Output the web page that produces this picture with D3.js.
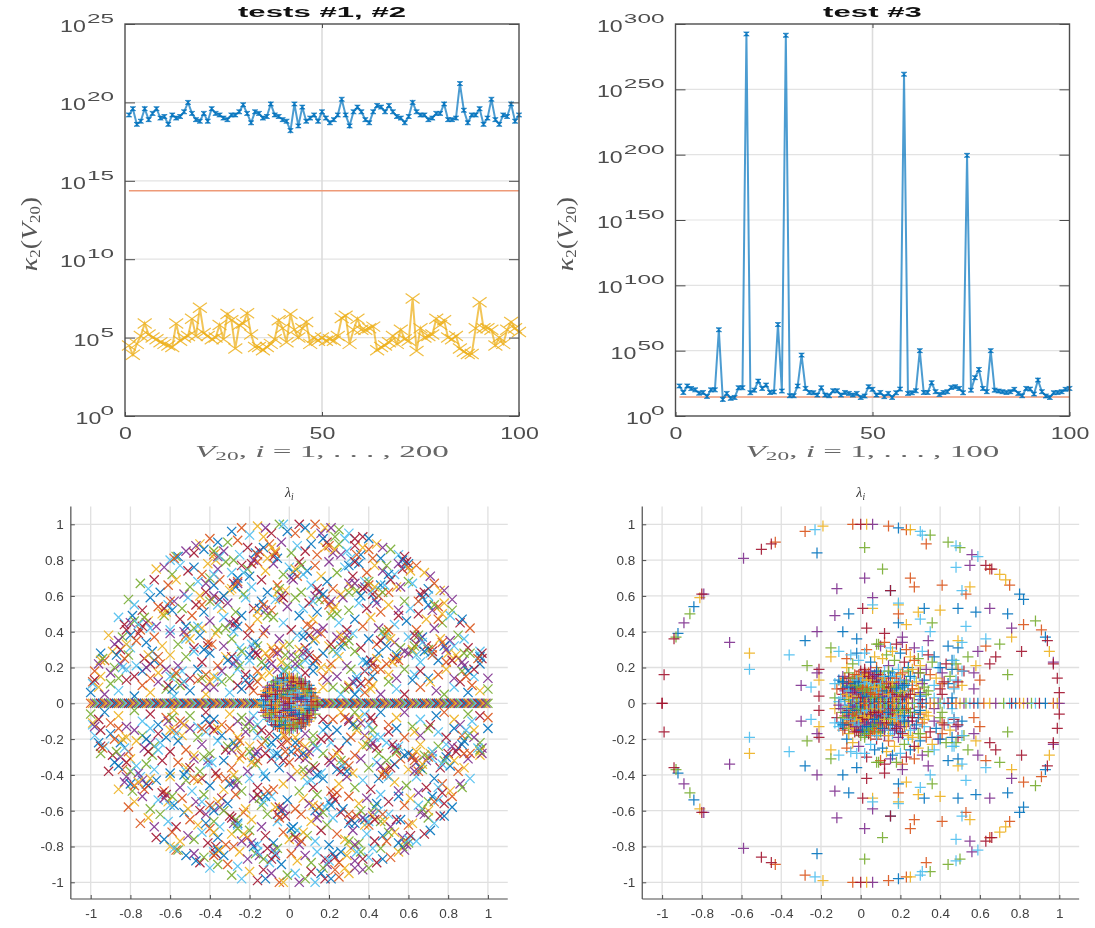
<!DOCTYPE html>
<html>
<head>
<meta charset="utf-8">
<script src="https://cdn.jsdelivr.net/npm/d3@7"></script>
<style>
body { margin: 0; background: #fff; }
svg { display: block; filter: blur(0.35px); }
</style>
</head>
<body>
<div id="chart"></div>
<script>
// top panels: exponents of kappa_2(V_20), i = 1..100
var blueOneExp = [19.2,19.6,18.6,18.8,19.6,18.9,19.3,19.6,19.0,19.1,18.6,19.2,19.0,19.1,19.4,20.0,19.3,18.9,18.8,19.3,18.8,19.6,19.3,19.2,19.0,18.9,19.2,19.2,19.4,19.85,19.3,18.7,19.4,19.3,19.0,19.1,19.9,19.2,19.1,18.9,18.8,18.2,19.9,18.5,19.7,18.8,19.0,19.2,18.8,19.4,19.0,18.7,18.9,19.2,20.2,19.2,18.5,19.4,19.7,19.4,18.9,18.7,19.4,19.8,19.7,19.4,19.8,19.4,19.1,19.0,18.7,19.1,20.0,19.4,19.2,19.2,18.9,19.0,19.3,19.3,19.9,18.9,18.9,19.0,21.2,19.5,18.7,19.2,19.2,19.6,18.6,19.0,20.2,18.9,18.6,19.2,19.1,19.9,18.8,19.2];
var yellowOneExp = [4.5,3.9,4.6,5.1,5.9,5.2,5.0,4.9,4.7,4.6,4.5,4.4,5.9,4.8,5.0,5.1,6.2,5.1,6.9,5.3,5.1,4.9,5.0,5.8,4.9,6.5,6.1,4.3,5.8,5.9,6.55,5.2,4.4,4.4,4.2,4.4,4.6,4.9,6.1,5.6,4.7,6.5,5.5,5.0,5.6,6.0,4.6,5.0,4.8,5.0,4.8,4.9,4.8,5.1,6.25,6.4,4.6,5.5,6.2,5.5,5.5,5.6,5.7,4.2,4.4,4.5,4.7,5.1,4.6,5.5,4.9,4.8,7.5,4.15,5.6,5.0,5.1,5.2,6.2,5.8,6.1,5.0,4.9,5.1,4.3,4.1,3.95,3.95,5.6,7.25,5.6,5.6,5.5,4.5,5.0,4.6,5.5,6.0,5.6,5.35];
var redOneExp = 14.37;
var blueTwoExp = [23,18,23,21,20,17.5,18,15,20,20,66,12.7,17.3,13.5,14.2,21.6,21.6,292.4,17.8,19.8,26.7,21.1,23.7,18,18.4,70,19.1,291.4,15.5,15.5,22.9,46.6,21.1,18,17.8,16,21.6,16,15.5,19.3,19.3,16,18,17.3,16,17.3,14.2,15.3,22.4,20.4,16,18,14.8,17.3,14.2,17.8,20.6,261.6,17.3,17.8,19.3,50,18,18,25.4,18.6,16.5,18,18.6,21.9,22.4,21.1,17.8,199.5,19.8,29.3,35.6,21.1,18.6,50,19.8,19.1,18.6,18,18.6,20.4,17.3,15.5,21.1,20.6,16.8,27.5,18.6,15.3,14.2,17.8,18,18.6,20.4,21.1];
var redTwoExp = 14.5;
var testIndex = d3.range(1, 101);
var xTicksTop = [0, 50, 100];
var yExpOne = [0, 5, 10, 15, 20, 25];
var yExpTwo = [0, 50, 100, 150, 200, 250, 300];

// bottom panels: eigenvalues in hundredths, flat re,im lists, upper half plane
var timesUpper = [-29,96,-24,98,-16,99,-12,98,-5,100,-3,100,5,100,8,98,13,100,18,98,21,98,25,97,30,95,37,93,40,92,-40,92,-45,89,-47,88,-31,90,-20,94,-9,95,-1,96,3,95,11,94,16,95,23,93,28,92,33,92,-36,90,-26,91,-13,93,
-52,85,-57,82,-60,80,-48,84,-43,86,-38,83,-37,80,-33,85,-28,80,-25,83,-21,87,-17,84,-10,89,-7,85,-4,90,1,84,4,88,8,85,11,89,14,83,18,87,22,84,25,89,29,85,33,88,36,83,40,86,44,89,47,87,51,86,55,83,58,82,46,81,42,81,
-67,75,-63,76,-59,72,-55,77,-51,74,-48,76,-44,72,-41,78,-36,75,-32,79,-29,73,-24,77,-20,71,-16,79,-12,74,-8,78,-3,72,0,76,5,79,9,74,13,77,16,71,20,79,24,73,28,76,32,71,35,78,39,73,43,77,47,74,49,77,53,72,57,75,60,78,64,77,68,73,71,71,
-75,67,-71,64,-68,69,-65,62,-61,66,-57,69,-53,61,-50,65,-46,68,-42,62,-38,66,-35,69,-30,63,-26,67,-23,61,-19,65,-14,69,-11,62,-6,66,-2,63,2,69,6,62,11,66,15,62,19,68,22,64,26,61,30,67,34,63,38,68,42,61,46,66,50,62,54,65,56,65,60,68,62,67,66,61,70,64,73,67,76,63,78,63,
-81,58,-78,55,-74,52,-70,59,-66,54,-62,51,-58,57,-54,53,-51,59,-47,55,-43,51,-39,58,-34,53,-31,56,-27,51,-22,59,-18,53,-14,57,-9,52,-5,58,-1,54,3,59,7,53,10,56,14,51,18,58,23,54,27,59,30,52,35,56,39,53,43,58,46,51,50,55,55,52,58,57,61,53,65,50,70,55,75,54,78,56,82,58,82,52,
-86,48,-83,44,-79,49,-75,41,-71,46,-67,43,-63,49,-60,41,-55,47,-52,43,-49,49,-44,42,-40,46,-36,41,-33,48,-28,44,-24,49,-20,42,-16,47,-12,41,-8,48,-3,45,1,41,5,49,9,44,12,47,17,42,21,49,25,45,29,41,33,47,37,43,41,48,45,42,49,40,53,44,55,49,59,46,64,41,69,47,73,42,77,45,81,49,86,45,87,47,91,42,
-91,38,-88,33,-84,37,-80,31,-76,39,-72,34,-68,37,-64,32,-60,39,-56,33,-52,36,-48,31,-45,38,-41,34,-37,39,-33,32,-29,36,-25,31,-21,38,-17,34,-13,39,-9,31,-5,36,0,33,4,38,8,31,12,35,16,39,20,32,24,37,28,33,32,39,36,31,40,36,44,33,48,38,53,34,56,31,60,37,64,33,67,37,72,31,76,36,81,35,85,38,88,36,90,31,
-95,28,-93,24,-89,29,-85,22,-81,27,-77,21,-73,25,-69,29,-65,22,-60,27,-56,21,-52,26,-48,29,-44,23,-40,28,-36,21,-32,26,-28,22,-24,29,-20,24,-16,27,-12,21,-8,29,-4,23,1,27,5,22,9,29,13,24,17,28,21,22,25,26,29,21,33,29,37,24,41,24,45,28,49,22,54,26,58,29,62,29,66,23,72,29,75,24,79,23,84,27,88,21,91,28,96,29,97,25,96,22,
-98,18,-95,15,-90,17,-86,14,-82,19,-78,15,-74,18,-70,14,-66,17,-62,19,-58,15,-54,18,-50,14,-46,19,-42,16,-38,15,-34,18,-30,14,-26,19,-22,16,-18,14,-16,18,-10,17,-6,19,-2,18,3,19,8,17,12,18,17,15,20,19,24,15,31,19,34,15,38,18,42,15,46,19,50,16,54,14,58,19,63,16,66,18,70,14,75,16,79,19,83,14,87,18,93,15,93,19,
-100,6,-99,12,-96,9,-93,5,-90,11,-86,7,-82,13,-78,4,-74,10,-70,6,-66,12,-62,8,-58,4,-54,11,-50,7,-46,13,-42,5,-38,9,-34,12,-30,6,-26,10,-22,13,-18,7,17,9,19,13,22,9,26,5,30,9,34,13,38,6,42,10,46,5,50,12,54,8,58,5,62,13,66,9,71,12,74,7,78,5,83,9,86,12,90,6,92,10,96,7,100,14,100,8];
var timesClumps = [96,27,97,28,96,26,95,25,-95,24,-96,22,-94,25,-99,11,-98,13,-56,82,-58,81,-37,84,-36,82,-38,85,-35,82,-28,67,-27,65,-26,68,-29,64,-27,24,-25,21,-26,25,-29,26,-31,24,-52,38,-50,36,-53,40,-48,42,-46,43,-41,32,-43,30,-39,33,
-6,62,-4,60,-5,64,-7,58,-3,59,-15,53,-13,55,-16,51,-12,52,-11,49,-61,55,-63,53,-59,52,-60,57,-64,50,-72,45,-73,48,-70,42,-74,43,2,73,4,71,3,75,1,70,6,77,7,72,-8,82,-6,81,-7,84,-9,87,
13,60,15,58,12,57,14,64,17,61,20,55,22,52,21,57,24,50,31,81,33,79,30,77,34,83,37,87,38,65,40,68,42,63,37,64,36,60,40,66,31,65,33,67,30,62,58,77,59,79,57,80,60,76,61,74,55,78,
70,30,71,28,69,32,68,29,72,27,62,30,60,28,63,32,64,27,53,25,54,27,55,24,52,23,66,36,65,38,67,34,63,38,78,32,77,34,80,28,79,30,47,40,48,37,46,35,49,32,50,41,51,36,
-18,30,-16,32,-19,33,-17,28,-20,27,-5,30,-3,32,-6,28,-2,27,8,40,10,38,7,37,11,43,13,36,14,40,22,30,24,28,21,33,26,32,27,35,26,38,29,38,30,35,40,20,42,22,39,23,43,19,44,25,
-38,60,-40,57,-36,55,-35,58,-33,60,-44,55,-45,60,-42,67,-40,70,-38,72,-70,22,-68,24,-66,26,-71,27,-72,20,-55,10,-53,12,-85,30,-87,27,-83,25,-82,33,-86,35,-88,20,-84,20,
-15,85,-13,87,-16,83,-11,81,-18,80,-21,75,-23,73,-19,78,-26,70,45,60,43,65,44,56,47,62,48,66,51,69,50,72,75,47,77,50,72,52,73,55,70,60,68,62,67,59,65,57,85,25,87,23,88,28,83,32,82,24,90,18,89,15,
30,10,32,12,28,8,35,8,36,11,33,5,40,12,41,8,-30,45,-32,42,-28,40,-27,46,-26,43,-10,25,-12,28,-9,22,-14,23,-60,15,-61,10,-59,8,-57,17,-40,12,-42,9,-44,14,-36,14,-20,10,-24,8,-16,12,-14,15,
-80,45,-78,46,-76,44,-82,41,-80,38,-77,35,5,30,7,28,4,26,8,24,10,27,12,22,14,25,16,20,3,22,-1,21,-3,18,19,90,17,92,20,88,23,86,26,83];
var timesCore = [-14,2,-13,5,-12,7,-11,9,-9,10,-8,12,-6,13,-4,14,-2,14,0,15,2,14,4,14,6,13,8,12,10,10,11,8,13,6,13,3,14,1,-12,2,-11,4,-10,6,-8,8,-7,10,-5,11,-3,12,-1,12,1,12,3,11,5,11,7,10,8,8,10,6,11,4,12,2,-10,1,-9,3,-8,5,-6,7,-4,8,-2,10,0,10,2,9,4,9,6,8,7,6,9,4,9,1,-7,2,-6,4,-4,5,-2,7,0,7,2,6,4,6,5,4,7,3,6,1,-5,1,-4,3,-2,4,0,4,2,3,3,2,-2,1,0,2,1,1,0,0,
-13,1,-12,4,-11,6,-10,8,-9,6,-8,10,-7,12,-5,13,-3,14,-1,13,1,14,3,13,5,12,7,11,9,9,10,8,11,6,12,4,13,2,-11,2,-9,1,-8,3,-7,5,-6,9,-5,7,-4,10,-3,7,-3,5,-2,12,-1,8,-1,5,-1,3,0,12,1,10,1,7,1,4,2,12,3,8,3,5,4,11,4,3,5,9,5,6,6,11,6,3,7,8,8,5,8,2,9,7,10,3,11,1,-6,1,-3,1];
var timesReal = [-100,-99,-98,-97,-96,-95,-94,-93,-92,-91,-90,-89,-88,-87,-86,-85,-84,-83,-82,-81,-80,-79,-78,-77,-76,-75,-74,-73,-72,-71,-70,-69,-68,-67,-66,-65,-64,-63,-62,-61,-60,-59,-58,-57,-56,-55,-54,-53,-52,-51,-50,-49,-48,-47,-46,-45,-44,-43,-42,-41,-40,-39,-38,-37,-36,-35,-34,-33,-32,-31,-30,-29,-28,-27,-26,-25,-24,-23,-22,-21,-20,-19,-18,-17,-16,-15,15,16,17,18,19,20,21,22,23,24,25,26,27,28,29,30,31,32,33,34,35,36,37,38,39,40,41,42,43,44,45,46,47,48,49,50,51,52,53,54,55,56,57,58,59,60,61,62,63,64,65,66,67,68,69,70,71,72,73,74,75,76,77,78,79,80,81,82,83,84,85,86,87,88,89,90,91,92,93,94,95,96,97,98,99,100];

var plusBlue = [19,98,15,63,32,53,49,53,58,51,74,50,19,45,44,32,49,31,80,61,82,58,93,37,40,20,46,19,-92,39,-84,54,-22,84,-28,35,-9,40,-6,50,-2,36,-9,12,22,10,30,4];
var plusOrange = [14,99,23,97,33,89,25,70,27,65,41,66,53,61,19,50,82,44,91,41,63,32,60,13,75,66,65,75,-43,90,-28,96,-4,100,-7,25,41,11];
var plusYellow = [3,100,25,97,55,65,6,53,29,51,40,52,23,44,76,37,95,29,70,72,73,69,58,21,19,55,49,35,-81,59,-19,99,-56,28,-15,26,-21,13,26,19];
var plusPurple = [6,100,56,83,55,77,2,70,6,59,65,53,76,42,97,23,34,35,21,37,59,29,57,17,-79,61,-89,45,-59,81,-66,34,-12,64,-13,49,-22,40,-30,10,-22,17];
var plusGreen = [2,87,11,75,35,94,44,90,50,87,88,46,36,45,70,33,54,26,74,16,9,33,48,22,-86,50,-93,37,-15,31,-27,21,8,33,30,17];
var plusCyan = [30,96,31,94,48,88,48,76,51,63,6,55,19,56,30,47,35,40,53,43,63,36,51,34,59,82,47,24,51,18,47,8,-23,97,-36,27,-56,19,-25,9,-11,29,-5,27,-13,11,2,28];
var plusRed = [0,100,63,77,66,75,15,63,1,53,3,42,12,39,94,35,81,29,68,26,65,22,97,22,99,14,100,6,42,12,49,12,-99,16,-100,0,-94,36,-80,61,-50,86,-45,89,-21,4,-21,19];
var plusCluster = [-2,28,3,30,7,26,10,32,13,27,15,31,18,33,20,28,23,30,25,26,27,31,29,25,31,29,34,27,37,26,12,34,16,29,21,34,
-4,22,-1,24,2,19,5,23,8,20,11,25,14,21,17,24,19,19,22,23,24,20,27,24,30,21,33,19,36,23,39,20,43,22,46,24,49,19,-7,20,
-9,15,-6,17,-3,13,0,18,2,14,4,17,6,12,8,16,10,13,12,18,14,14,16,17,18,12,20,16,22,13,24,18,27,14,29,17,32,13,35,16,38,14,41,17,45,15,48,13,52,18,-11,13,
-12,8,-10,11,-8,7,-6,10,-4,8,-2,12,0,7,1,10,3,8,5,11,6,7,8,10,9,7,11,11,13,8,15,11,16,7,18,10,20,8,22,11,24,7,26,10,29,8,31,11,34,7,37,10,40,8,44,11,47,9,51,10,57,8,
-13,3,-11,1,-9,5,-8,2,-6,4,-5,1,-3,5,-2,2,0,4,1,1,2,5,4,2,5,4,6,1,8,5,9,2,10,4,12,1,13,5,14,2,16,4,17,1,19,5,20,2,22,4,24,3,27,5,30,2,33,5,37,3,41,5,46,3,
-4,11,-1,9,1,13,3,11,4,6,6,9,7,13,9,12,10,8,11,5,12,11,13,3,14,9,15,6,-3,9,-1,6,0,12,2,9,2,3,3,6,5,8,6,5,7,3,8,8,9,10,10,6,-5,6,-7,9,-2,15,3,16,6,15,9,17,
-10,3,-9,8,-9,12,-8,14,-7,5,-7,11,-6,2,-6,7,-6,14,-5,9,-5,12,-4,3,-4,6,-4,14,-3,2,-3,8,-3,11,-3,16,-2,4,-2,7,-2,10,-2,13,-1,3,-1,12,-1,16,0,2,0,6,0,9,0,15,1,3,1,6,1,8,1,15,2,1,2,7,2,11,2,17,3,4,3,9,3,13,4,1,4,8,4,12,4,15,5,2,5,6,5,13,5,18,6,3,6,11,6,14,7,1,7,5,7,9,7,16,8,3,8,7,8,12,8,18,9,5,9,9,9,14,10,2,10,11,10,16,11,3,11,7,11,14,12,5,12,9,12,15,13,1,13,7,13,11,14,5,14,12,14,18,15,3,15,9,15,15,16,6,16,12,17,3,17,9,17,15,18,5,18,8,18,14,19,3,19,11,20,6,20,13,21,4,21,9,21,17,22,7,23,3,23,12,24,10,25,5,25,15,26,8,28,12,30,6,32,9];
var plusReal = [-4,-2,-1,0,1,2,3,4,5,6,7,8,9,10,11,12,13,14,15,16,17,18,19,20,21,22,23,24,26,27,29,31,33,35,37,39,40,42,44,46,48,50,52,53,55,57,59,62,65,68,72,75,76,78,80,82,84,86,88,90,93,97,99,100];

var eigenTicks = [-1, -0.8, -0.6, -0.4, -0.2, 0, 0.2, 0.4, 0.6, 0.8, 1];
var lineColors = ['#0072BD', '#D95319', '#EDB120', '#7E2F8E', '#77AC30', '#4DBEEE', '#A2142F'];

const svg = d3.select('#chart').append('svg').attr('width', 1095).attr('height', 928);
const axisGrey = '#4d4d4d';
const wide = 1.45;   // the upper panels are stretched sideways in the original
const cycle = d3.scaleOrdinal().domain(d3.range(7)).range(lineColors);
const timesGlyph = 'M-4.6,-4.6L4.6,4.6M-4.6,4.6L4.6,-4.6';
const plusGlyph = 'M-5.5,0H5.5M0,-5.5V5.5';

// flat re,im hundredths -> [{re, im}]
function toPoints(flat) {
    const out = [];
    for (let i = 0; i < flat.length; i += 2) {
        out.push({re: flat[i] / 100, im: flat[i + 1] / 100});
    }
    return out;
}
// conjugate pairs: the picture is symmetric about the real axis
function withConjugates(pts) {
    return pts.concat(pts.map(p => ({re: p.re, im: -p.im})));
}

function drawLogPanel(opts) {
    const x = d3.scaleLinear().domain([0, 100]).range([opts.left, opts.right]);
    const y = d3.scaleLog().domain([1, Math.pow(10, opts.exps[opts.exps.length - 1])]).range([416, 24]);
    const g = svg.append('g');
    const pow = e => Math.pow(10, e);

    // grid
    g.selectAll('.hgrid').data(opts.exps.slice(1, -1)).enter().append('line')
        .attr('x1', opts.left).attr('x2', opts.right)
        .attr('y1', e => y(pow(e))).attr('y2', e => y(pow(e)))
        .attr('stroke', '#e3e3e3').attr('stroke-width', 1.2);
    g.append('line')
        .attr('x1', x(50)).attr('x2', x(50)).attr('y1', 24).attr('y2', 416)
        .attr('stroke', '#dcdcdc').attr('stroke-width', 1.6);

    const line = d3.line().x((d, i) => x(testIndex[i])).y(d => y(pow(d)));

    // constant reference line
    g.append('path')
        .attr('d', line(testIndex.map(() => opts.redExp)))
        .attr('fill', 'none').attr('stroke', '#EE9A78').attr('stroke-width', 1.4);

    if (opts.yellow) {
        g.append('path').attr('d', line(opts.yellow))
            .attr('fill', 'none').attr('stroke', '#EDB120').attr('stroke-width', 2).attr('stroke-opacity', 0.75);
        g.selectAll('.ymark').data(opts.yellow).enter().append('path')
            .attr('transform', (d, i) => `translate(${x(testIndex[i])},${y(pow(d))})`)
            .attr('d', 'M-7,-5L7,5M-7,5L7,-5')
            .attr('fill', 'none').attr('stroke', '#EDB120').attr('stroke-width', 1.2).attr('stroke-opacity', 0.85);
    }

    g.append('path').attr('d', line(opts.blue))
        .attr('fill', 'none').attr('stroke', '#0072BD').attr('stroke-width', 2).attr('stroke-opacity', 0.7);
    g.selectAll('.bmark').data(opts.blue).enter().append('path')
        .attr('transform', (d, i) => `translate(${x(testIndex[i])},${y(pow(d))})`)
        .attr('d', 'M-2.8,-2L2.8,-2L-2.8,2L2.8,2Z')
        .attr('fill', '#0072BD').attr('stroke', '#0072BD').attr('stroke-width', 0.6).attr('fill-opacity', 0.9);

    // box and ticks
    g.append('rect')
        .attr('x', opts.left).attr('y', 24).attr('width', opts.right - opts.left).attr('height', 392)
        .attr('fill', 'none').attr('stroke', axisGrey).attr('stroke-width', 1.4);

    const yVals = opts.exps.map(pow);
    [[d3.axisLeft(y), opts.left], [d3.axisRight(y), opts.right]].forEach(a => {
        const ax = g.append('g').attr('transform', `translate(${a[1]},0)`)
            .call(a[0].tickValues(yVals).tickFormat('').tickSizeInner(-10).tickSizeOuter(0));
        ax.select('.domain').remove();
        ax.selectAll('line').attr('stroke', axisGrey);
    });
    const xTop = g.append('g').attr('transform', 'translate(0,24)')
        .call(d3.axisTop(x).tickValues([50]).tickFormat('').tickSizeInner(-4).tickSizeOuter(0));
    xTop.select('.domain').remove();
    xTop.selectAll('line').attr('stroke', axisGrey);

    const xAxis = g.append('g').attr('transform', 'translate(0,416)')
        .call(d3.axisBottom(x).tickValues(xTicksTop).tickSizeInner(-4).tickSizeOuter(0).tickPadding(8));
    xAxis.select('.domain').remove();
    xAxis.selectAll('line').attr('stroke', axisGrey);
    xAxis.selectAll('text')
        .attr('y', 23).attr('dy', 0)
        .attr('transform', `scale(${wide},1)`)
        .attr('font-family', 'Liberation Sans').attr('font-size', 16).attr('fill', axisGrey);

    // power-of-ten labels, base and exponent separately because of the stretch
    const labelRight = opts.left - 11;
    opts.exps.forEach(e => {
        const ty = y(pow(e));
        const str = String(e);
        const expW = str.length * 13.6;
        const gap = e === 0 ? -1 : 1;
        g.append('text')
            .attr('transform', `translate(${labelRight},${ty - 1}) scale(1.95,1)`)
            .attr('text-anchor', 'end')
            .attr('font-family', 'Liberation Sans').attr('font-size', 12.5).attr('fill', axisGrey)
            .text(str);
        g.append('text')
            .attr('transform', `translate(${labelRight - expW - gap},${ty + 8}) scale(${wide},1)`)
            .attr('text-anchor', 'end')
            .attr('font-family', 'Liberation Sans').attr('font-size', 16).attr('fill', axisGrey)
            .text('10');
    });

    // title
    g.append('text')
        .attr('transform', `translate(${(opts.left + opts.right) / 2},17) scale(2.08,1)`)
        .attr('text-anchor', 'middle')
        .attr('font-family', 'Liberation Sans').attr('font-weight', 'bold').attr('font-size', 15).attr('fill', '#111')
        .text(opts.title);

    // x label
    const xl = g.append('text')
        .attr('transform', `translate(${(opts.left + opts.right) / 2},457) scale(1.95,1)`)
        .attr('text-anchor', 'middle')
        .attr('font-family', 'Liberation Serif').attr('font-size', 17).attr('fill', '#666');
    xl.append('tspan').attr('font-style', 'italic').text('V');
    xl.append('tspan').attr('font-size', 12).attr('dy', 3).text('20');
    xl.append('tspan').attr('dy', -3).text(', ');
    xl.append('tspan').attr('font-style', 'italic').text('i');
    xl.append('tspan').text(' = 1, . . . , ' + opts.xCount);

    // y label
    const yl = g.append('text')
        .attr('transform', `translate(${opts.yLabelX},234) rotate(-90) scale(1.4,1.15)`)
        .attr('text-anchor', 'middle')
        .attr('font-family', 'Liberation Serif').attr('font-size', 20).attr('fill', '#555');
    yl.append('tspan').attr('font-style', 'italic').text('κ');
    yl.append('tspan').attr('font-size', 12).attr('dy', 3).text('2');
    yl.append('tspan').attr('dy', -3).text('(');
    yl.append('tspan').attr('font-style', 'italic').text('V');
    yl.append('tspan').attr('font-size', 12).attr('dy', 3).text('20');
    yl.append('tspan').attr('dy', -3).text(')');
}

function drawEigenPanel(opts) {
    const x = d3.scaleLinear().domain([-1, 1]).range([opts.zero - 198.6, opts.zero + 198.6]);
    const y = d3.scaleLinear().domain([-1, 1]).range([882.3, 524.3]);
    const g = svg.append('g');
    const left = x(-1.1), right = x(1.1), top = y(1.1), bottom = 899;

    g.selectAll('.vg').data(eigenTicks).enter().append('line')
        .attr('x1', d => x(d)).attr('x2', d => x(d)).attr('y1', top).attr('y2', bottom)
        .attr('stroke', '#e0e0e0').attr('stroke-width', 1.3);
    g.selectAll('.hg').data(eigenTicks).enter().append('line')
        .attr('x1', left).attr('x2', right).attr('y1', d => y(d)).attr('y2', d => y(d))
        .attr('stroke', '#e0e0e0').attr('stroke-width', 1.3);

    g.selectAll('.mark').data(opts.points).enter().append('path')
        .attr('transform', d => `translate(${x(d.re)},${y(d.im)})`)
        .attr('d', d => d.glyph)
        .attr('fill', 'none')
        .attr('stroke', d => d.color)
        .attr('stroke-width', 1.25)
        .attr('stroke-opacity', 0.9);

    const xAxis = g.append('g').attr('transform', `translate(0,${bottom})`)
        .call(d3.axisBottom(x).tickValues(eigenTicks).tickFormat(d => String(d)).tickSizeInner(-4).tickSizeOuter(0));
    const yAxis = g.append('g').attr('transform', `translate(${left},0)`)
        .call(d3.axisLeft(y).tickValues(eigenTicks).tickFormat(d => String(d)).tickSizeInner(-4).tickSizeOuter(0));
    [xAxis, yAxis].forEach(ax => {
        ax.select('.domain').attr('d', null);
        ax.selectAll('line').attr('stroke', axisGrey);
        ax.selectAll('text').attr('font-family', 'Liberation Sans').attr('font-size', 13.5).attr('fill', '#404040');
    });
    xAxis.selectAll('text').attr('y', 9);
    yAxis.selectAll('text').attr('x', -7);
    g.append('line').attr('x1', left).attr('x2', right).attr('y1', bottom).attr('y2', bottom)
        .attr('stroke', axisGrey).attr('stroke-width', 1.2);
    g.append('line').attr('x1', left).attr('x2', left).attr('y1', top).attr('y2', bottom)
        .attr('stroke', axisGrey).attr('stroke-width', 1.2);

    const t = g.append('text')
        .attr('x', opts.zero).attr('y', 497).attr('text-anchor', 'middle')
        .attr('font-family', 'Liberation Serif').attr('font-size', 14).attr('fill', '#333');
    t.append('tspan').attr('font-style', 'italic').text('λ');
    t.append('tspan').attr('font-style', 'italic').attr('font-size', 9.5).attr('dy', 2.5).text('i');
}

drawLogPanel({left: 125, right: 519, exps: yExpOne, blue: blueOneExp, yellow: yellowOneExp,
              redExp: redOneExp, title: 'tests #1, #2', xCount: 200, yLabelX: 37});
drawLogPanel({left: 675.5, right: 1069.5, exps: yExpTwo, blue: blueTwoExp, yellow: null,
              redExp: redTwoExp, title: 'test #3', xCount: 100, yLabelX: 573});

// cross markers, colours follow the plot order
var timesPoints = withConjugates(toPoints(timesUpper.concat(timesClumps)))
    .concat(timesReal.map(r => ({re: r / 100, im: 0})))
    .map((p, i) => ({re: p.re, im: p.im, color: cycle(i % 7), glyph: timesGlyph}));
var corePoints = withConjugates(toPoints(timesCore))
    .map((p, i) => ({re: p.re, im: p.im, color: cycle(i % 7), glyph: plusGlyph}));
drawEigenPanel({zero: 289.3, points: timesPoints.concat(corePoints)});

var plusGroups = [plusBlue, plusOrange, plusYellow, plusPurple, plusGreen, plusCyan, plusRed];
var plusPoints = [];
var clusterPoints = withConjugates(toPoints(plusCluster)).concat(plusReal.map(r => ({re: r / 100, im: 0})));
clusterPoints.forEach((p, i) => plusPoints.push({re: p.re, im: p.im, color: cycle(i % 7), glyph: plusGlyph}));
plusGroups.forEach((flat, k) => {
    withConjugates(toPoints(flat)).forEach(p => plusPoints.push({re: p.re, im: p.im, color: lineColors[k], glyph: plusGlyph}));
});
drawEigenPanel({zero: 860.7, points: plusPoints});
</script>
</body>
</html>
